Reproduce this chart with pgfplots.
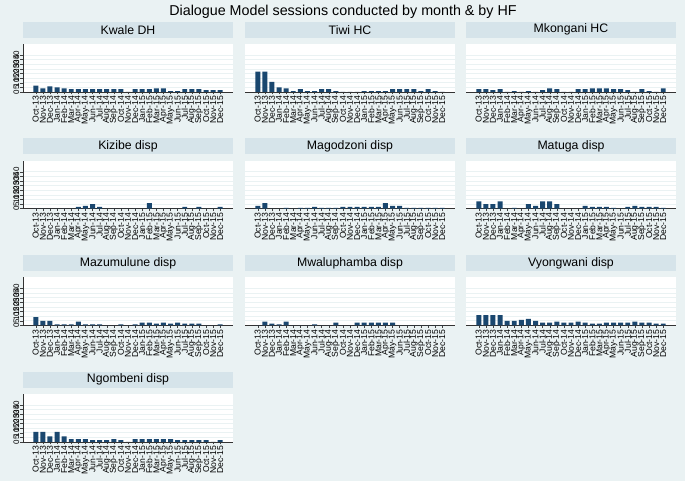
\documentclass[border=0pt]{standalone}
\usepackage{pgfplots}
\pgfplotsset{compat=1.18}
\usepackage{pgfplotstable}
\usepackage{fontspec}
\setmainfont{Liberation Sans}
\definecolor{bg}{RGB}{234,242,243}
\definecolor{band}{RGB}{214,228,234}
\definecolor{navy}{RGB}{26,71,111}

\pgfplotstableread{
idx kwale tiwi mkongani kizibe magodzoni matuga mazumulune mwaluphamba vyongwani ngombeni
0  7 22 3 0 3 8 9 0 11 11
1  4 22 3 0 6 5 5 4 11 11
2  6 11 2 0 0 5 5 2 11 6
3  5 5 3 0 0 8 1 1 11 11
4  4 4 0 0 1 0 1 4 5 6
5  3 1 1 0 0 1 1 0 5 3
6  3 3 0 2 1 0 4 0 6 3
7  3 1 1 3 1 5 1 0 7 3
8  3 1 0 5 2 3 1 1 5 2
9  3 3 2 2 1 8 1 0 3 2
10 3 3 4 0 1 8 0 0 3 2
11 3 1 3 0 1 5 0 3 4 3
12 3 0 0 0 2 0 1 0 3 2
13 0 0 0 0 2 0 0 0 3 0
14 3 0 3 0 2 0 1 3 4 3
15 3 1 3 0 2 3 3 3 3 3
16 3 1 4 6 2 2 3 3 2 3
17 4 1 4 0 2 2 2 3 2 3
18 4 1 4 0 6 2 3 3 3 3
19 1 3 3 0 3 1 2 3 3 3
20 1 3 3 0 3 0 3 0 3 2
21 3 3 2 2 1 2 2 0 3 2
22 3 3 0 0 1 3 2 0 4 2
23 3 1 3 2 1 2 2 0 3 2
24 2 3 1 0 1 2 0 0 3 2
25 2 1 0 0 1 2 0 0 2 0
26 2 0 4 2 1 1 1 0 2 2
}\data

\pgfplotsset{
  panel/.style={
    scale only axis, width=210pt, height=48pt, anchor=south west,
    xmin=-1.8, xmax=27.8, ymin=0, ymax=52,
    xtick={0,...,26},
    xticklabels={Oct-13,Nov-13,Dec-13,Jan-14,Feb-14,Mar-14,Apr-14,May-14,Jun-14,Jul-14,Aug-14,Sep-14,Oct-14,Nov-14,Dec-14,Jan-15,Feb-15,Mar-15,Apr-15,May-15,Jun-15,Jul-15,Aug-15,Sep-15,Oct-15,Nov-15,Dec-15},
    x tick label style={rotate=90, anchor=east, font=\fontsize{8.6}{9}\selectfont, inner sep=1.5pt},
    ytick={0,5,...,40},
    ymajorgrids, grid style={bg, line width=0.6pt},
    axis background/.style={fill=white},
    axis x line*=bottom, axis y line*=left,
    tick align=outside, major tick length=2.5pt,
    tick style={black!75, line width=0.4pt},
    x axis line style={black!80, line width=0.6pt},
    y axis line style={black!80, line width=0.6pt},
    /pgf/number format/assume math mode=true,
    y tick label style={rotate=90, anchor=south, font=\fontsize{8}{9}\selectfont, inner sep=1pt},
    title style={at={(0.5,1)}, anchor=south, fill=band, minimum width=210pt, minimum height=16pt, inner sep=0pt, font=\fontsize{12.3}{13}\selectfont, yshift=0pt},
    ybar, bar width=0.7, bar shift=0pt,
  },
  other/.style={y axis line style={draw=none}, yticklabels={}, ytick style={draw=none}},
}

\newcommand\panel[4]{%
  \begin{axis}[panel, at={(#1pt,#2pt)}, title={#4}, #3]
    \addplot[fill=navy, draw=none] table[x=idx, y=\col] {\data};
  \end{axis}}

\begin{document}
\begin{tikzpicture}
\useasboundingbox (0,0) rectangle (685pt,481pt);
\fill[bg] (0,0) rectangle (685pt,481pt);
\node[font=\fontsize{14.3}{16}\selectfont] at (343pt,469pt) {Dialogue Model sessions conducted by month \& by HF};

\def\col{kwale}\panel{23}{389}{}{Kwale DH}
\def\col{tiwi}\panel{245}{389}{other}{Tiwi HC}
\def\col{mkongani}\panel{466}{389}{other}{Mkongani HC}
\def\col{kizibe}\panel{23}{272.3}{}{Kizibe disp}
\def\col{magodzoni}\panel{245}{272.3}{other}{Magodzoni disp}
\def\col{matuga}\panel{466}{272.3}{other}{Matuga disp}
\def\col{mazumulune}\panel{23}{155.6}{}{Mazumulune disp}
\def\col{mwaluphamba}\panel{245}{155.6}{other}{Mwaluphamba disp}
\def\col{vyongwani}\panel{466}{155.6}{other}{Vyongwani disp}
\def\col{ngombeni}\panel{23}{39}{}{Ngombeni disp}
\end{tikzpicture}
\end{document}
